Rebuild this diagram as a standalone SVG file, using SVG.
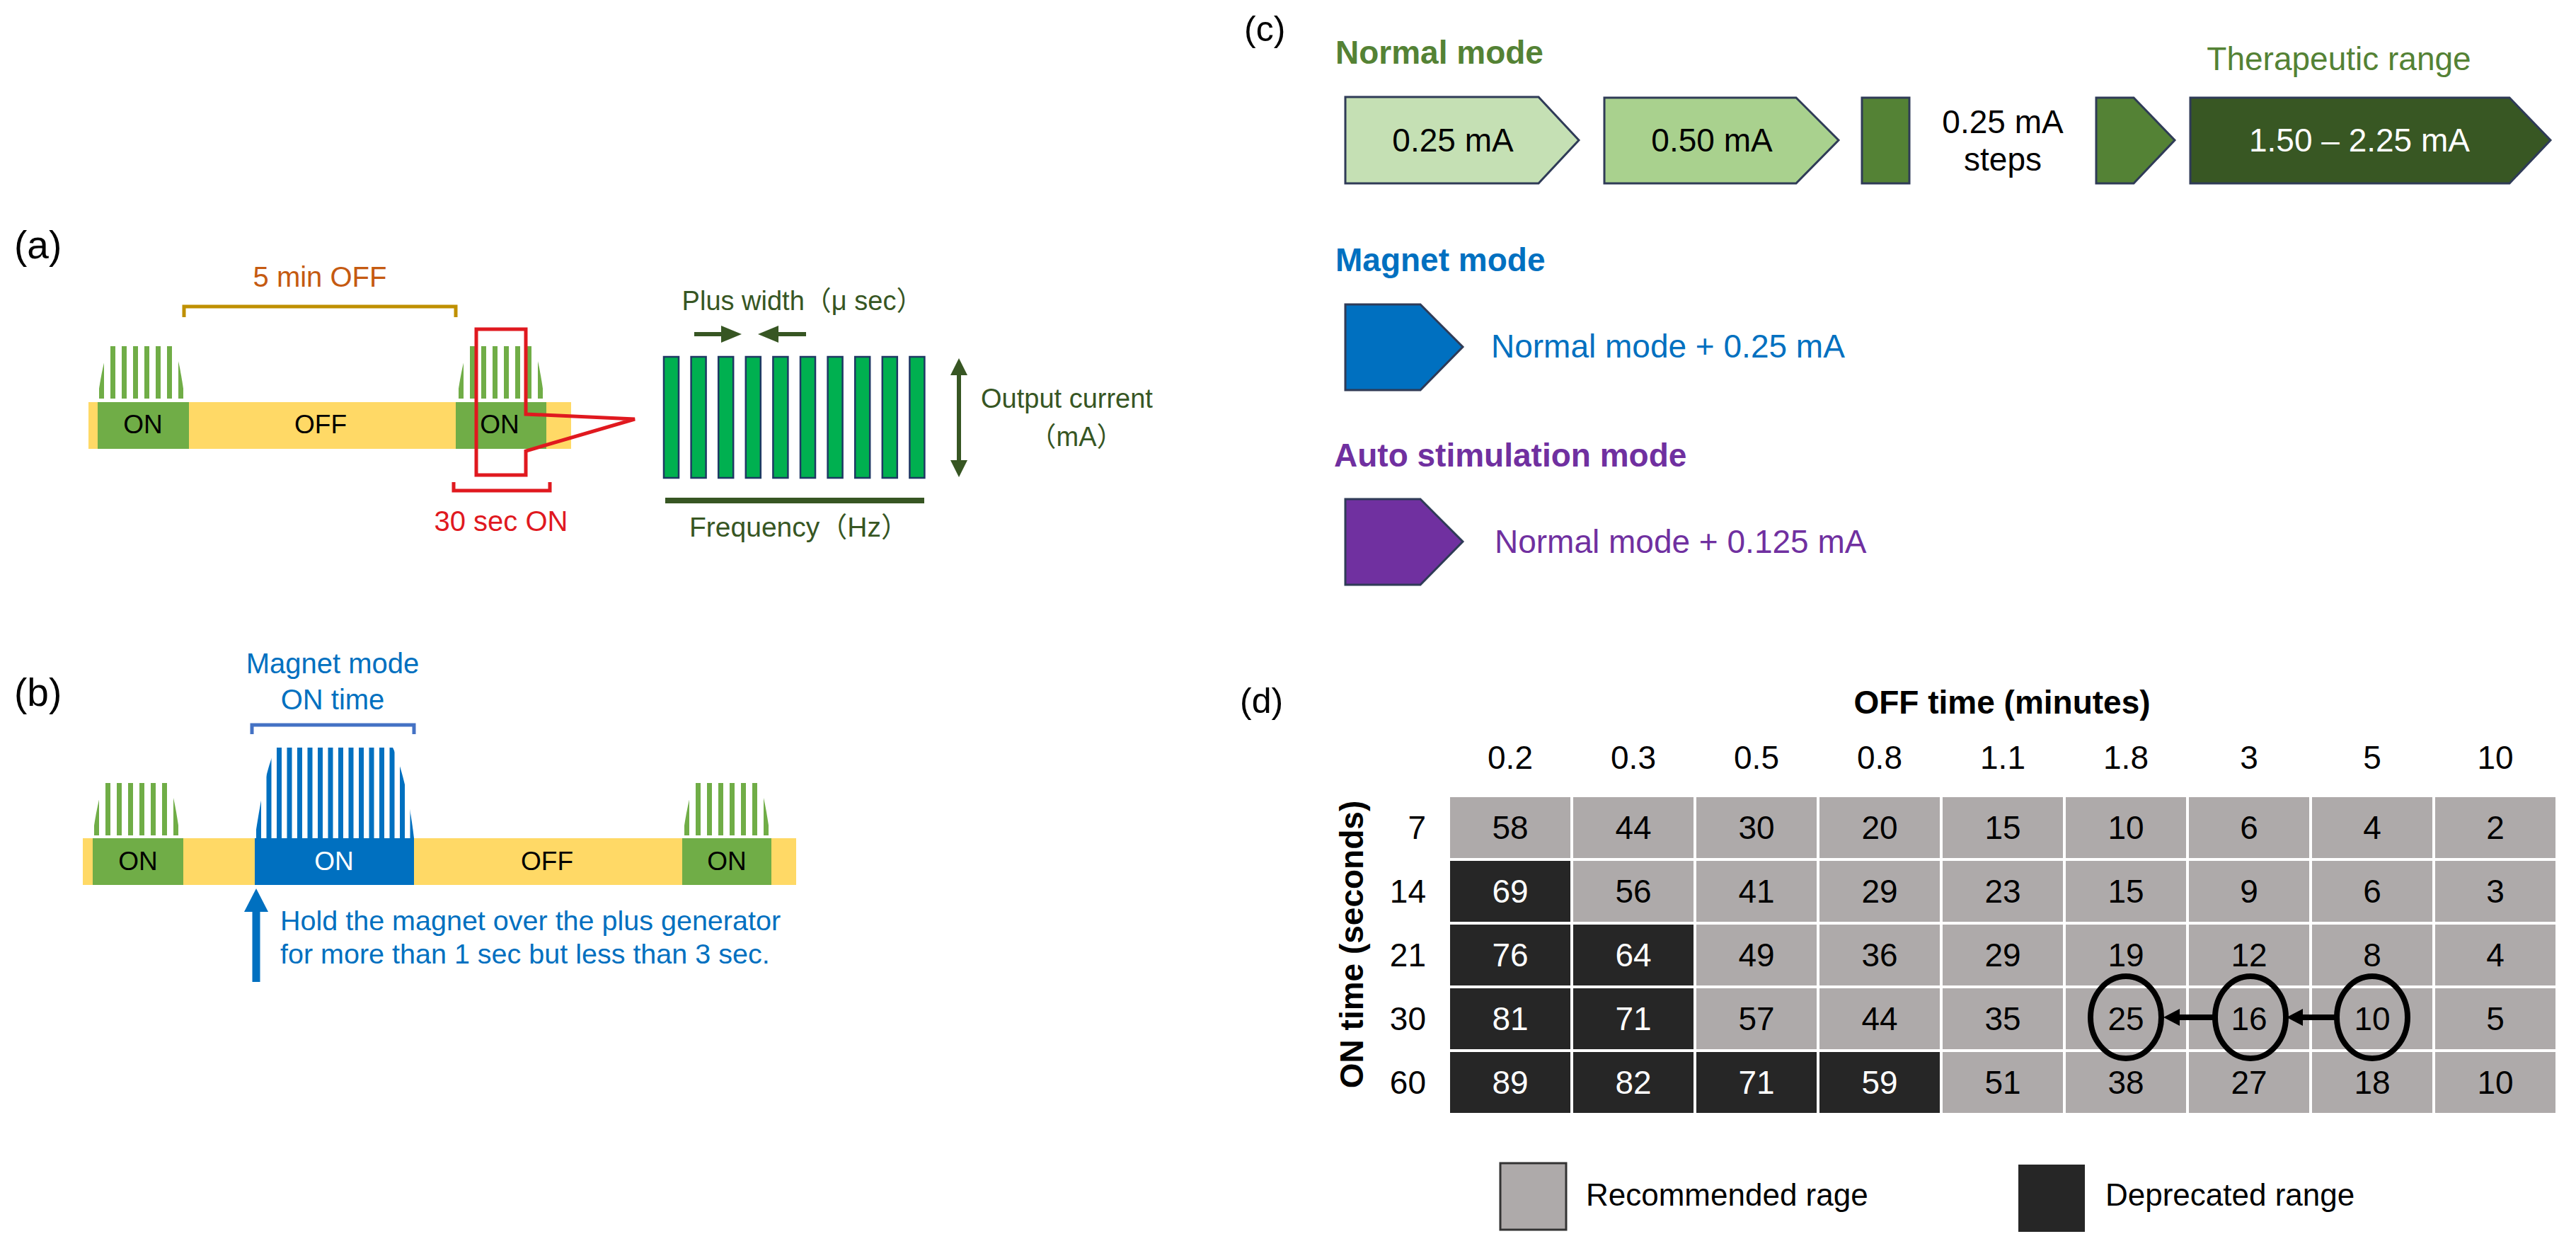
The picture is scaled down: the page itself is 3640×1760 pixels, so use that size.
<svg xmlns="http://www.w3.org/2000/svg" xmlns:xlink="http://www.w3.org/1999/xlink" width="3640" height="1760" viewBox="0 0 3640 1760">
<style>
text{font-family:"Liberation Sans",Arial,"Noto Sans CJK JP",sans-serif}
.lbl{font-size:55px;fill:#000}
.bar{font-size:37px;fill:#000;text-anchor:middle}
.dg{fill:#375623;font-size:38px}
.blue{fill:#0070C0}
.hd{font-size:46px;font-weight:bold}
.c46{font-size:46px}
.cell{font-size:46px;text-anchor:middle;fill:#000}
.cellw{font-size:46px;text-anchor:middle;fill:#fff}
.lg{fill:#AEAAAA}
.dk{fill:#262626}
.pent{stroke:#2F3B57;stroke-width:3}
</style>
<defs>
<clipPath id="envG"><path d="M0,0 C4,-30 9,-55 16,-74 L108,-74 C114,-58 119,-30 123,0 Z"/></clipPath>
<g id="burstG" clip-path="url(#envG)" fill="#70AD47">
<rect x="2" y="-74" width="7" height="74"/><rect x="18" y="-74" width="7" height="74"/>
<rect x="34" y="-74" width="7" height="74"/><rect x="50" y="-74" width="7" height="74"/>
<rect x="66" y="-74" width="7" height="74"/><rect x="82" y="-74" width="7" height="74"/>
<rect x="98" y="-74" width="7" height="74"/><rect x="114" y="-74" width="7" height="74"/>
</g>
<clipPath id="envB"><path d="M0,0 C8,-50 16,-100 30,-128 L195,-128 C206,-105 218,-60 225,0 Z"/></clipPath>
<g id="burstB" clip-path="url(#envB)" fill="#0070C0">
<rect x="2" y="-128" width="7" height="128"/><rect x="16.5" y="-128" width="7" height="128"/>
<rect x="31" y="-128" width="7" height="128"/><rect x="45.5" y="-128" width="7" height="128"/>
<rect x="60" y="-128" width="7" height="128"/><rect x="74.5" y="-128" width="7" height="128"/>
<rect x="89" y="-128" width="7" height="128"/><rect x="103.5" y="-128" width="7" height="128"/>
<rect x="118" y="-128" width="7" height="128"/><rect x="132.5" y="-128" width="7" height="128"/>
<rect x="147" y="-128" width="7" height="128"/><rect x="161.5" y="-128" width="7" height="128"/>
<rect x="176" y="-128" width="7" height="128"/><rect x="190.5" y="-128" width="7" height="128"/>
<rect x="205" y="-128" width="7" height="128"/><rect x="219.5" y="-128" width="7" height="128"/>
</g>
<rect id="pulse" width="21" height="171" fill="#00B050" stroke="#1F3864" stroke-width="2.5"/>
</defs>
<rect width="3640" height="1760" fill="#fff"/>

<!-- Panel (a) -->
<g id="panel-a">
<text class="lbl" x="20" y="365">(a)</text>
<g id="a-timeline">
<rect x="125" y="568" width="682" height="66" fill="#FFD966"/>
<rect x="138" y="568" width="129" height="66" fill="#70AD47"/>
<rect x="644" y="568" width="128" height="66" fill="#70AD47"/>
<use xlink:href="#burstG" x="138" y="563"/>
<use xlink:href="#burstG" x="646" y="563"/>
<text class="bar" x="202" y="612">ON</text>
<text class="bar" x="453" y="612">OFF</text>
<text class="bar" x="706" y="612">ON</text>
</g>
<g id="a-offlabel">
<path d="M260,448 V433 H644 V448" fill="none" stroke="#BF9000" stroke-width="5"/>
<text x="452" y="405" font-size="40" fill="#C55A11" text-anchor="middle">5 min OFF</text>
</g>
<g id="a-callout">
<path d="M673,465 H743 V585 L897,592 L743,637 V671 H673 Z" fill="none" stroke="#E0191F" stroke-width="5"/>
<path d="M641,681 V693 H777 V681" fill="none" stroke="#E0191F" stroke-width="5"/>
<text x="708" y="750" font-size="40" fill="#E0191F" text-anchor="middle">30 sec ON</text>
</g>
<g id="a-pulsetrain">
<use xlink:href="#pulse" x="938" y="504"/><use xlink:href="#pulse" x="976.6" y="504"/>
<use xlink:href="#pulse" x="1015.2" y="504"/><use xlink:href="#pulse" x="1053.8" y="504"/>
<use xlink:href="#pulse" x="1092.4" y="504"/><use xlink:href="#pulse" x="1131" y="504"/>
<use xlink:href="#pulse" x="1169.6" y="504"/><use xlink:href="#pulse" x="1208.2" y="504"/>
<use xlink:href="#pulse" x="1246.8" y="504"/><use xlink:href="#pulse" x="1285.4" y="504"/>
<text class="dg" x="1134" y="438" text-anchor="middle">Plus width（μ sec）</text>
<rect x="981" y="469" width="42" height="6" fill="#375623"/>
<polygon points="1019,460 1048,472 1019,484" fill="#375623"/>
<rect x="1096" y="469" width="43" height="6" fill="#375623"/>
<polygon points="1100,460 1071,472 1100,484" fill="#375623"/>
<rect x="1352" y="526" width="6" height="128" fill="#375623"/>
<polygon points="1355,506 1343,530 1367,530" fill="#375623"/>
<polygon points="1355,674 1343,650 1367,650" fill="#375623"/>
<text class="dg" x="1386" y="576">Output current</text>
<text class="dg" x="1521" y="630" text-anchor="middle">（mA）</text>
<rect x="940" y="703" width="366" height="8" fill="#375623"/>
<text class="dg" x="1129" y="758" text-anchor="middle" style="font-size:39px">Frequency（Hz）</text>
</g>
</g>

<!-- Panel (b) -->
<g id="panel-b">
<text class="lbl" x="20" y="997">(b)</text>
<g id="b-timeline">
<rect x="117" y="1184" width="1008" height="66" fill="#FFD966"/>
<rect x="131" y="1184" width="128" height="66" fill="#70AD47"/>
<rect x="360" y="1184" width="225" height="66" fill="#0070C0"/>
<rect x="964" y="1184" width="126" height="66" fill="#70AD47"/>
<use xlink:href="#burstG" x="131" y="1180"/>
<use xlink:href="#burstG" x="965" y="1180"/>
<use xlink:href="#burstB" x="360" y="1184"/>
<text class="bar" x="195" y="1229">ON</text>
<text class="bar" x="472" y="1229" style="fill:#fff">ON</text>
<text class="bar" x="773" y="1229">OFF</text>
<text class="bar" x="1027" y="1229">ON</text>
</g>
<g id="b-magnet">
<path d="M356,1037 V1024 H585 V1037" fill="none" stroke="#4472C4" stroke-width="5"/>
<text class="blue" x="470" y="951" font-size="40" text-anchor="middle">Magnet mode</text>
<text class="blue" x="470" y="1002" font-size="40" text-anchor="middle">ON time</text>
<polygon points="362,1255 345,1288 379,1288" fill="#0070C0"/>
<rect x="356.5" y="1285" width="11" height="102" fill="#0070C0"/>
<text class="blue" x="396" y="1314" font-size="39.5">Hold the magnet over the plus generator</text>
<text class="blue" x="396" y="1361" font-size="39.5">for more than 1 sec but less than 3 sec.</text>
</g>
</g>

<!-- Panel (c) -->
<g id="panel-c">
<text x="1758" y="58" font-size="50">(c)</text>
<g id="c-normal">
<text class="hd" x="1887" y="90" fill="#548235">Normal mode</text>
<text class="c46" x="3305" y="99" fill="#548235" text-anchor="middle">Therapeutic range</text>
<path class="pent" d="M1901,137 H2174 L2231,198 L2174,259 H1901 Z" fill="#C5E0B4"/>
<text class="cell" x="2053" y="214">0.25 mA</text>
<path class="pent" d="M2267,138 H2538 L2598,198 L2538,259 H2267 Z" fill="#A9D18E"/>
<text class="cell" x="2419" y="214">0.50 mA</text>
<rect class="pent" x="2631" y="138" width="67" height="121" fill="#548235"/>
<text class="cell" x="2830" y="188">0.25 mA</text>
<text class="cell" x="2830" y="241">steps</text>
<path class="pent" d="M2962,138 H3015 L3073,198 L3015,259 H2962 Z" fill="#548235"/>
<path class="pent" d="M3095,138 H3546 L3604,198 L3546,259 H3095 Z" fill="#385723"/>
<text class="cellw" x="3334" y="214">1.50 – 2.25 mA</text>
</g>
<g id="c-magnet">
<text class="hd blue" x="1887" y="383">Magnet mode</text>
<path class="pent" d="M1901,430 H2007 L2067,490 L2007,551 H1901 Z" fill="#0070C0"/>
<text class="c46 blue" x="2107" y="505">Normal mode + 0.25 mA</text>
</g>
<g id="c-auto">
<text class="hd" x="1885" y="659" fill="#7030A0">Auto stimulation mode</text>
<path class="pent" d="M1901,705 H2007 L2067,765 L2007,826 H1901 Z" fill="#7030A0"/>
<text class="c46" x="2112" y="781" fill="#7030A0">Normal mode + 0.125 mA</text>
</g>
</g>

<!-- Panel (d) -->
<g id="panel-d">
<text x="1752" y="1007" font-size="50">(d)</text>
<text class="hd" x="2829" y="1008" text-anchor="middle">OFF time (minutes)</text>
<text class="hd" transform="translate(1926,1334) rotate(-90)" text-anchor="middle">ON time (seconds)</text>
<g id="d-colheads" class="c46" text-anchor="middle">
<text x="2134" y="1086">0.2</text><text x="2308" y="1086">0.3</text><text x="2482" y="1086">0.5</text>
<text x="2656" y="1086">0.8</text><text x="2830" y="1086">1.1</text><text x="3004" y="1086">1.8</text>
<text x="3178" y="1086">3</text><text x="3352" y="1086">5</text><text x="3526" y="1086">10</text>
</g>
<g id="d-rowheads" class="c46" text-anchor="end">
<text x="2015" y="1185">7</text><text x="2015" y="1275">14</text><text x="2015" y="1365">21</text>
<text x="2015" y="1455">30</text><text x="2015" y="1545">60</text>
</g>
<g id="d-cells">
<rect class="lg" x="2049" y="1126" width="170" height="86"/><rect class="lg" x="2223" y="1126" width="170" height="86"/><rect class="lg" x="2397" y="1126" width="170" height="86"/><rect class="lg" x="2571" y="1126" width="170" height="86"/><rect class="lg" x="2745" y="1126" width="170" height="86"/><rect class="lg" x="2919" y="1126" width="170" height="86"/><rect class="lg" x="3093" y="1126" width="170" height="86"/><rect class="lg" x="3267" y="1126" width="170" height="86"/><rect class="lg" x="3441" y="1126" width="170" height="86"/>
<rect class="dk" x="2049" y="1216" width="170" height="86"/><rect class="lg" x="2223" y="1216" width="170" height="86"/><rect class="lg" x="2397" y="1216" width="170" height="86"/><rect class="lg" x="2571" y="1216" width="170" height="86"/><rect class="lg" x="2745" y="1216" width="170" height="86"/><rect class="lg" x="2919" y="1216" width="170" height="86"/><rect class="lg" x="3093" y="1216" width="170" height="86"/><rect class="lg" x="3267" y="1216" width="170" height="86"/><rect class="lg" x="3441" y="1216" width="170" height="86"/>
<rect class="dk" x="2049" y="1306" width="170" height="86"/><rect class="dk" x="2223" y="1306" width="170" height="86"/><rect class="lg" x="2397" y="1306" width="170" height="86"/><rect class="lg" x="2571" y="1306" width="170" height="86"/><rect class="lg" x="2745" y="1306" width="170" height="86"/><rect class="lg" x="2919" y="1306" width="170" height="86"/><rect class="lg" x="3093" y="1306" width="170" height="86"/><rect class="lg" x="3267" y="1306" width="170" height="86"/><rect class="lg" x="3441" y="1306" width="170" height="86"/>
<rect class="dk" x="2049" y="1396" width="170" height="86"/><rect class="dk" x="2223" y="1396" width="170" height="86"/><rect class="lg" x="2397" y="1396" width="170" height="86"/><rect class="lg" x="2571" y="1396" width="170" height="86"/><rect class="lg" x="2745" y="1396" width="170" height="86"/><rect class="lg" x="2919" y="1396" width="170" height="86"/><rect class="lg" x="3093" y="1396" width="170" height="86"/><rect class="lg" x="3267" y="1396" width="170" height="86"/><rect class="lg" x="3441" y="1396" width="170" height="86"/>
<rect class="dk" x="2049" y="1486" width="170" height="86"/><rect class="dk" x="2223" y="1486" width="170" height="86"/><rect class="dk" x="2397" y="1486" width="170" height="86"/><rect class="dk" x="2571" y="1486" width="170" height="86"/><rect class="lg" x="2745" y="1486" width="170" height="86"/><rect class="lg" x="2919" y="1486" width="170" height="86"/><rect class="lg" x="3093" y="1486" width="170" height="86"/><rect class="lg" x="3267" y="1486" width="170" height="86"/><rect class="lg" x="3441" y="1486" width="170" height="86"/>
</g>
<g id="d-values">
<text class="cell" x="2134" y="1185">58</text><text class="cell" x="2308" y="1185">44</text><text class="cell" x="2482" y="1185">30</text><text class="cell" x="2656" y="1185">20</text><text class="cell" x="2830" y="1185">15</text><text class="cell" x="3004" y="1185">10</text><text class="cell" x="3178" y="1185">6</text><text class="cell" x="3352" y="1185">4</text><text class="cell" x="3526" y="1185">2</text>
<text class="cellw" x="2134" y="1275">69</text><text class="cell" x="2308" y="1275">56</text><text class="cell" x="2482" y="1275">41</text><text class="cell" x="2656" y="1275">29</text><text class="cell" x="2830" y="1275">23</text><text class="cell" x="3004" y="1275">15</text><text class="cell" x="3178" y="1275">9</text><text class="cell" x="3352" y="1275">6</text><text class="cell" x="3526" y="1275">3</text>
<text class="cellw" x="2134" y="1365">76</text><text class="cellw" x="2308" y="1365">64</text><text class="cell" x="2482" y="1365">49</text><text class="cell" x="2656" y="1365">36</text><text class="cell" x="2830" y="1365">29</text><text class="cell" x="3004" y="1365">19</text><text class="cell" x="3178" y="1365">12</text><text class="cell" x="3352" y="1365">8</text><text class="cell" x="3526" y="1365">4</text>
<text class="cellw" x="2134" y="1455">81</text><text class="cellw" x="2308" y="1455">71</text><text class="cell" x="2482" y="1455">57</text><text class="cell" x="2656" y="1455">44</text><text class="cell" x="2830" y="1455">35</text><text class="cell" x="3004" y="1455">25</text><text class="cell" x="3178" y="1455">16</text><text class="cell" x="3352" y="1455">10</text><text class="cell" x="3526" y="1455">5</text>
<text class="cellw" x="2134" y="1545">89</text><text class="cellw" x="2308" y="1545">82</text><text class="cellw" x="2482" y="1545">71</text><text class="cellw" x="2656" y="1545">59</text><text class="cell" x="2830" y="1545">51</text><text class="cell" x="3004" y="1545">38</text><text class="cell" x="3178" y="1545">27</text><text class="cell" x="3352" y="1545">18</text><text class="cell" x="3526" y="1545">10</text>
</g>
<g id="d-highlight" fill="none" stroke="#000" stroke-width="8">
<ellipse cx="3004" cy="1437" rx="50" ry="58"/>
<ellipse cx="3180" cy="1437" rx="50" ry="58"/>
<ellipse cx="3352" cy="1437" rx="50" ry="58"/>
</g>
<g id="connectors" fill="#000">
<rect x="3248" y="1433" width="54" height="8"/>
<polygon points="3231,1437 3254,1425 3254,1449"/>
<rect x="3074" y="1433" width="56" height="8"/>
<polygon points="3057,1437 3080,1425 3080,1449"/>
</g>
<g id="d-legend">
<rect x="2120" y="1643" width="93" height="94" fill="#AEAAAA" stroke="#333" stroke-width="3"/>
<text x="2241" y="1703" style="font-size:44px">Recommended rage</text>
<rect x="2852" y="1645" width="94" height="95" fill="#262626"/>
<text x="2975" y="1703" style="font-size:44px">Deprecated range</text>
</g>
</g>
</svg>
